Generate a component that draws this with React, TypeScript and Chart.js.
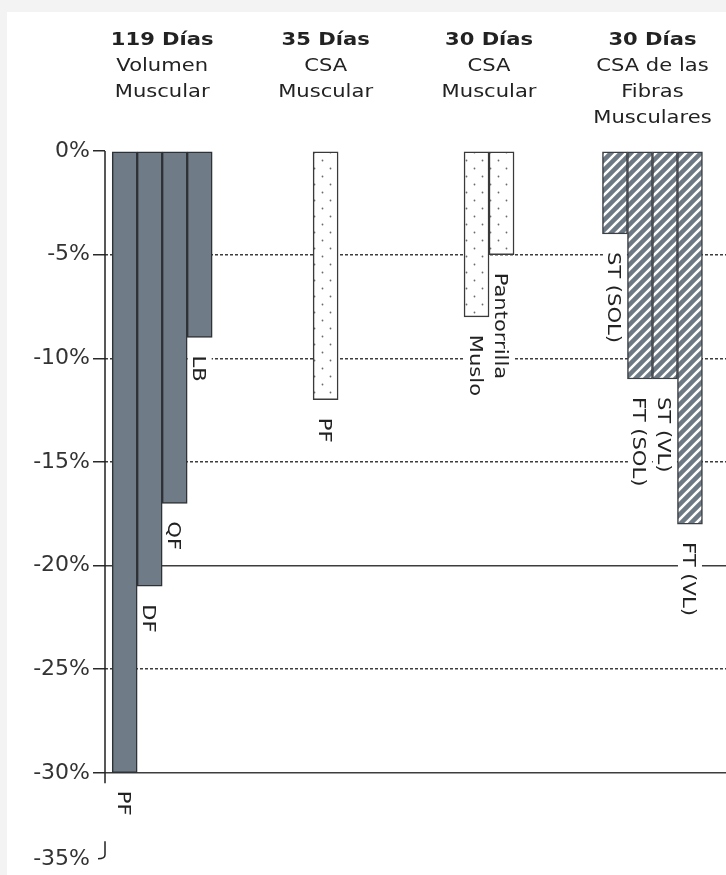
import React, { useEffect, useRef } from 'react';
import { Chart, registerables } from 'chart.js';

Chart.register(...registerables);

// ---------- data ----------
const groupDays = ['119 Días', '35 Días', '30 Días', '30 Días'];
const groupMeasures = [
  ['Volumen', 'Muscular'],
  ['CSA', 'Muscular'],
  ['CSA', 'Muscular'],
  ['CSA de las', 'Fibras', 'Musculares'],
];

// Up to four bars per group (null = no bar in that slot)
const bar1Values = [-30, -12, -8, -4];
const bar1Labels = ['PF', 'PF', 'Muslo', 'ST (SOL)'];
const bar2Values = [-21, null, -5, -11];
const bar2Labels = ['DF', null, 'Pantorrilla', 'FT (SOL)'];
const bar3Values = [-17, null, null, -11];
const bar3Labels = ['QF', null, null, 'ST (VL)'];
const bar4Values = [-9, null, null, -18];
const bar4Labels = ['LB', null, null, 'FT (VL)'];

const yTickValues = [0, -5, -10, -15, -20, -25, -30, -35];
const yTickLabels = ['0%', '-5%', '-10%', '-15%', '-20%', '-25%', '-30%', '-35%'];
const solidGridValues = [-20, -30];

// ---------- layout / style ----------
const Y_MIN = -34.15; // broken axis: -35% is drawn at the bottom of the plot
const AXIS_BREAK_FROM = -30.5;
const AXIS_BREAK_TO = -33.3;
const FONT = '"DejaVu Sans", Verdana, sans-serif';
const STRETCH = 1.17;

function makeDots(): CanvasPattern | string {
  const c = document.createElement('canvas');
  c.width = 16;
  c.height = 16;
  const g = c.getContext('2d');
  if (!g) return '#fff';
  g.fillStyle = '#ffffff';
  g.fillRect(0, 0, 16, 16);
  g.fillStyle = '#6a6a6a';
  g.beginPath();
  g.arc(11.5, 4.5, 0.9, 0, Math.PI * 2);
  g.arc(3.5, 12.5, 0.9, 0, Math.PI * 2);
  g.fill();
  return g.createPattern(c, 'repeat') || '#fff';
}

function makeHatch(): CanvasPattern | string {
  const s = 10;
  const c = document.createElement('canvas');
  c.width = s;
  c.height = s;
  const g = c.getContext('2d');
  if (!g) return '#6d7984';
  g.fillStyle = '#6d7984';
  g.fillRect(0, 0, s, s);
  g.strokeStyle = '#ffffff';
  g.lineWidth = 2.6;
  g.beginPath();
  g.moveTo(-s, s * 2);
  g.lineTo(s * 2, -s);
  g.moveTo(-s, s);
  g.lineTo(s, -s);
  g.moveTo(0, s * 2);
  g.lineTo(s * 2, 0);
  g.stroke();
  return g.createPattern(c, 'repeat') || '#6d7984';
}

const allValues = [bar1Values, bar2Values, bar3Values, bar4Values];
const allLabels = [bar1Labels, bar2Labels, bar3Labels, bar4Labels];

export default function App() {
  const ref = useRef<HTMLCanvasElement | null>(null);

  useEffect(() => {
    const canvas = ref.current;
    if (!canvas) return;
    const dots = makeDots();
    const hatch = makeHatch();
    const fills = ['#6f7b86', dots, dots, hatch];
    const borders = ['#2e3236', '#3a3a3a', '#3a3a3a', '#3a3f44'];

    const labelGeom = (chart: any) => {
      const out: any[] = [];
      const ctx = chart.ctx;
      ctx.save();
      ctx.font = `18px ${FONT}`;
      allLabels.forEach((labels, di) => {
        const meta = chart.getDatasetMeta(di);
        labels.forEach((lab, j) => {
          if (!lab) return;
          const el: any = meta.data[j];
          if (!el || el.skip || isNaN(el.y)) return;
          const len = ctx.measureText(lab).width * STRETCH;
          out.push({ lab, x: el.x, y0: el.y + 18, len });
        });
      });
      ctx.restore();
      return out;
    };

    const decor = {
      id: 'decor',
      beforeDatasetsDraw(chart: any) {
        const ctx = chart.ctx;
        ctx.save();
        ctx.fillStyle = '#ffffff';
        for (const g of labelGeom(chart)) {
          ctx.fillRect(g.x - 12, g.y0 - 5, 24, g.len + 10);
        }
        ctx.restore();
      },
      afterDatasetsDraw(chart: any) {
        const ctx = chart.ctx;
        const ys = chart.scales.y;
        const xs = chart.scales.x;
        // bar labels
        ctx.save();
        ctx.fillStyle = '#222';
        ctx.font = `18px ${FONT}`;
        ctx.textAlign = 'left';
        ctx.textBaseline = 'alphabetic';
        for (const g of labelGeom(chart)) {
          ctx.save();
          ctx.translate(g.x, g.y0);
          ctx.rotate(Math.PI / 2);
          ctx.scale(STRETCH, 1);
          ctx.fillText(g.lab, 0, 6.5);
          ctx.restore();
        }
        ctx.restore();

        // y axis line with break
        const ax = chart.chartArea.left;
        ctx.save();
        ctx.strokeStyle = '#222';
        ctx.lineWidth = 1.5;
        ctx.beginPath();
        ctx.moveTo(ax, ys.getPixelForValue(0));
        ctx.lineTo(ax, ys.getPixelForValue(AXIS_BREAK_FROM));
        const yb = ys.getPixelForValue(Y_MIN);
        ctx.moveTo(ax, ys.getPixelForValue(AXIS_BREAK_TO));
        ctx.lineTo(ax, yb - 4);
        ctx.quadraticCurveTo(ax, yb, ax - 7, yb);
        ctx.stroke();
        ctx.restore();

        // group headers
        ctx.save();
        ctx.fillStyle = '#222';
        ctx.textAlign = 'center';
        ctx.textBaseline = 'alphabetic';
        groupDays.forEach((d, i) => {
          const cx = xs.getPixelForValue(i);
          const lines = [d, ...groupMeasures[i]];
          lines.forEach((t, k) => {
            ctx.font = `${k === 0 ? 'bold ' : ''}18px ${FONT}`;
            ctx.save();
            ctx.translate(cx, 33 + k * 26);
            ctx.scale(STRETCH, 1);
            ctx.fillText(t, 0, 0);
            ctx.restore();
          });
        });
        ctx.restore();
      },
    };

    const mkData = (vals: (number | null)[]) => vals.map((v, i) => ({ x: i, y: v }));

    const chart = new Chart(canvas, {
      type: 'bar',
      data: {
        datasets: allValues.map((vals, di) => ({
          label: 'barra ' + (di + 1),
          data: mkData(vals) as any,
          backgroundColor: (c: any) => fills[c.dataIndex],
          borderColor: (c: any) => borders[c.dataIndex],
          borderWidth: 1.5,
          borderSkipped: false as any,
          barThickness: 25,
          grouped: true,
          skipNull: true,
        })),
      },
      options: {
        animation: false,
        responsive: false,
        layout: { padding: { top: 139, bottom: 11.4, left: 0, right: 0 } },
        plugins: { legend: { display: false }, tooltip: { enabled: false } },
        scales: {
          x: {
            type: 'linear',
            min: -0.35,
            max: 3.45,
            offset: false,
            bounds: 'data',
            display: false,
            grid: { display: false, offset: false },
          },
          y: {
            type: 'linear',
            min: Y_MIN,
            max: 0,
            bounds: 'data',
            afterFit: (s: any) => {
              s.width = 98;
            },
            afterBuildTicks: (s: any) => {
              s.ticks = yTickValues.map((v) => ({ value: v < -30 ? Y_MIN : v }));
            },
            ticks: {
              autoSkip: false,
              padding: 3,
              color: '#333',
              font: { family: FONT, size: 22 },
              callback: (_v: any, i: number) => yTickLabels[i],
            },
            grid: {
              drawTicks: true,
              tickLength: 12,
              tickWidth: 1.5,
              tickColor: (c: any) => (c.tick && c.tick.value >= -30 ? '#2a2a2a' : 'rgba(0,0,0,0)'),
              lineWidth: 1.5,
              color: (c: any) =>
                c.tick && c.tick.value < 0 && c.tick.value >= -30 ? '#3d3d3d' : 'rgba(0,0,0,0)',
            },
            border: {
              display: false,
              dash: (c: any) =>
                c.tick && solidGridValues.includes(c.tick.value) ? [] : [3, 2],
            } as any,
          },
        },
      },
      plugins: [decor],
    } as any);

    return () => chart.destroy();
  }, []);

  return (
    <div style={{ position: 'fixed', inset: 0, background: '#f3f3f3', overflow: 'hidden' }}>
      <div
        style={{ position: 'absolute', left: 7, top: 12, width: 719, height: 863, background: '#ffffff' }}
      >
        <canvas ref={ref} width={719} height={863} style={{ display: 'block' }} />
      </div>
    </div>
  );
}
